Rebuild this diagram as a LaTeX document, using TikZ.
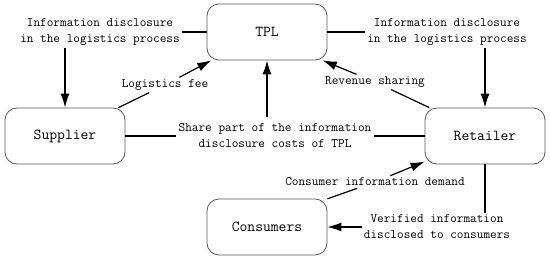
\documentclass[tikz,border=0pt]{standalone}
\usepackage{fontspec}
\usetikzlibrary{arrows.meta}

\begin{document}
\begin{tikzpicture}[
  x=1pt, y=-1pt,
  party/.style={draw=black!65, line width=0.8pt, rectangle, rounded corners=12pt, minimum width=120pt, minimum height=56pt, font=\ttfamily\fontsize{15.2}{18}\selectfont},
  info/.style={align=center, inner sep=2pt, font=\ttfamily\fontsize{12.9}{16}\selectfont},
  link/.style={line width=1.2pt},
  flow/.style={link, -{Latex[length=14pt, width=9pt]}}
]
\useasboundingbox (0,0) rectangle (550,260);
\node[party] (tpl) at (267,32) {TPL};
\node[party] (supplier) at (65,136) {Supplier};
\node[party] (retailer) at (485,136) {Retailer};
\node[party] (consumers) at (267,227) {Consumers};
\node[info] (infoleft) at (100,32) {Information disclosure\\in the logistics process};
\node[info] (inforight) at (447,32) {Information disclosure\\in the logistics process};
\node[info] (fee) at (165,85) {Logistics fee};
\node[info] (revenue) at (375,82) {Revenue sharing};
\node[info] (share) at (275,136) {Share part of the information\\disclosure costs of TPL};
\node[info] (demand) at (375,182) {Consumer information demand};
\node[info] (verified) at (437,227) {Verified information\\disclosed to consumers};
\draw[link] (infoleft) -- (tpl);
\draw[flow] (supplier.north |- infoleft.south) -- (supplier.north);
\draw[link] (tpl) -- (inforight);
\draw[flow] (retailer.north |- inforight.south) -- (retailer.north);
\draw[link] (supplier.28) -- (fee);
\draw[flow] (fee) -- (tpl.207);
\draw[link] (retailer.153) -- (revenue);
\draw[flow] (revenue) -- (tpl.333);
\draw[link] (supplier) -- (share);
\draw[link] (share) -- (retailer);
\draw[flow] ([yshift=5pt]tpl.south |- share.north) -- (tpl.south);
\draw[link] (consumers.25) -- (demand);
\draw[flow] (demand) -- (retailer.203);
\draw[link] (retailer.south) -- (retailer.south |- verified.north);
\draw[flow] (verified) -- (consumers);
\end{tikzpicture}
\end{document}
